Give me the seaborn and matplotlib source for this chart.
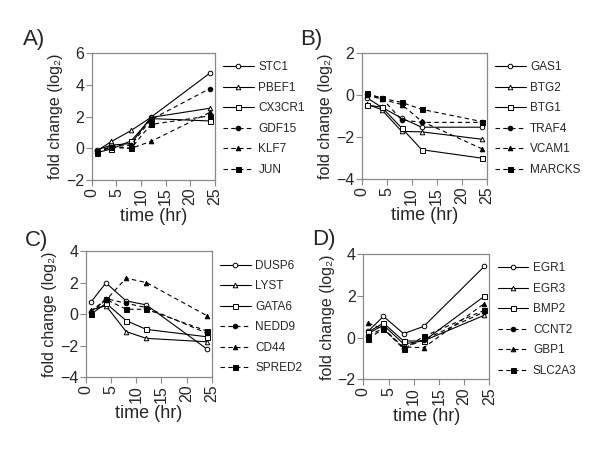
import pandas as pd
from matplotlib import pyplot as plt
import seaborn as sns

# time points (hr)
times = [1, 4, 8, 12, 24]

# panel A
genes_a = ['STC1', 'PBEF1', 'CX3CR1', 'GDF15', 'KLF7', 'JUN']
vals_a = [[-0.1, 0.2, 0.3, 1.95, 4.73],
          [-0.17, 0.43, 1.12, 1.94, 2.52],
          [-0.28, -0.04, 0.47, 1.87, 1.72],
          [-0.2, 0.1, 0.2, 1.8, 3.76],
          [-0.2, 0.1, 0.0, 0.43, 2.26],
          [-0.25, 0.05, 0.0, 1.5, 2.04]]

# panel B
genes_b = ['GAS1', 'BTG2', 'BTG1', 'TRAF4', 'VCAM1', 'MARCKS']
vals_b = [[-0.13, -0.58, -1.1, -1.53, -1.53],
          [-0.43, -0.7, -1.73, -1.75, -2.1],
          [-0.47, -0.58, -1.57, -2.6, -3.0],
          [0.05, -0.15, -1.18, -1.3, -1.3],
          [0.0, -0.2, -0.45, -1.25, -2.55],
          [0.08, -0.15, -0.35, -0.68, -1.26]]

# panel C
genes_c = ['DUSP6', 'LYST', 'GATA6', 'NEDD9', 'CD44', 'SPRED2']
vals_c = [[0.77, 2.0, 0.85, 0.6, -2.2],
          [0.28, 0.55, -1.1, -1.53, -1.75],
          [0.0, 0.7, -0.4, -0.96, -1.43],
          [0.15, 1.0, 0.7, 0.43, -1.2],
          [0.2, 0.9, 2.3, 2.02, -0.08],
          [0.0, 0.95, 0.32, 0.32, -1.06]]

# panel D
genes_d = ['EGR1', 'EGR3', 'BMP2', 'CCNT2', 'GBP1', 'SLC2A3']
vals_d = [[0.32, 1.02, 0.19, 0.54, 3.41],
          [0.2, 0.6, -0.3, -0.15, 1.07],
          [0.27, 0.7, -0.16, -0.16, 1.98],
          [0.1, 0.45, -0.5, -0.1, 1.23],
          [0.7, 0.4, -0.45, -0.48, 1.63],
          [-0.05, 0.43, -0.54, 0.06, 1.31]]

# marker / line style by position in each panel
markers = ['o', '^', 's', 'o', '^', 's']
filled = [False, False, False, True, True, True]
dashes = ['-', '-', '-', (0, (4, 3)), (0, (4, 3)), (0, (4, 3))]

sns.set_style('white')
plt.rcParams['font.family'] = ['Liberation Sans', 'DejaVu Sans']

fig = plt.figure(figsize=(6, 4.49), dpi=100)

panels = [
    ('A)', genes_a, vals_a, (-2, 6), [-2, 0, 2, 4, 6], [0.153, 0.599, 0.205, 0.283], (0.038, 0.900)),
    ('B)', genes_b, vals_b, (-4, 2), [-4, -2, 0, 2], [0.603, 0.601, 0.208, 0.281], (0.500, 0.900)),
    ('C)', genes_c, vals_c, (-4, 4), [-4, -2, 0, 2, 4], [0.143, 0.160, 0.210, 0.280], (0.042, 0.452)),
    ('D)', genes_d, vals_d, (-2, 4), [-2, 0, 2, 4], [0.6055, 0.155, 0.210, 0.279], (0.520, 0.454)),
]

for label, genes, vals, ylim, yticks, rect, lpos in panels:
    ax = fig.add_axes(rect)
    handles = []
    for i, g in enumerate(genes):
        df = pd.DataFrame({'time': times, 'fc': vals[i]})
        sns.lineplot(data=df, x='time', y='fc', ax=ax, color='black',
                     linewidth=0.8, linestyle=dashes[i], marker=markers[i],
                     markersize=3.6 if markers[i] == 's' else 3.3,
                     markerfacecolor='black' if filled[i] else 'white',
                     markeredgecolor='black', markeredgewidth=0.7)
        handles.append(ax.lines[-1])
    ax.set_xlim(0, 25)
    ax.set_ylim(*ylim)
    ax.set_xticks([0, 5, 10, 15, 20, 25])
    ax.set_yticks(yticks)
    ax.tick_params(axis='both', labelsize=11.5, length=4, width=0.8,
                   color='#888888', direction='out', bottom=True, left=True, pad=1.5)
    plt.setp(ax.get_xticklabels(), rotation=90)
    for sp in ax.spines.values():
        sp.set_color('#888888')
        sp.set_linewidth(0.9)
    ax.set_xlabel('time (hr)', fontsize=13, labelpad=2)
    ax.set_ylabel('fold change (log\u2082)', fontsize=11.5, labelpad=2)
    ax.legend(handles, genes, loc='upper left', bbox_to_anchor=(1.0, 1.0),
              frameon=False, fontsize=8.5, handlelength=2.6, labelspacing=0.72,
              handletextpad=0.4, borderaxespad=0.3)
    fig.text(lpos[0], lpos[1], label, fontsize=16, ha='left', va='baseline')

plt.savefig('out.png', dpi=100)
